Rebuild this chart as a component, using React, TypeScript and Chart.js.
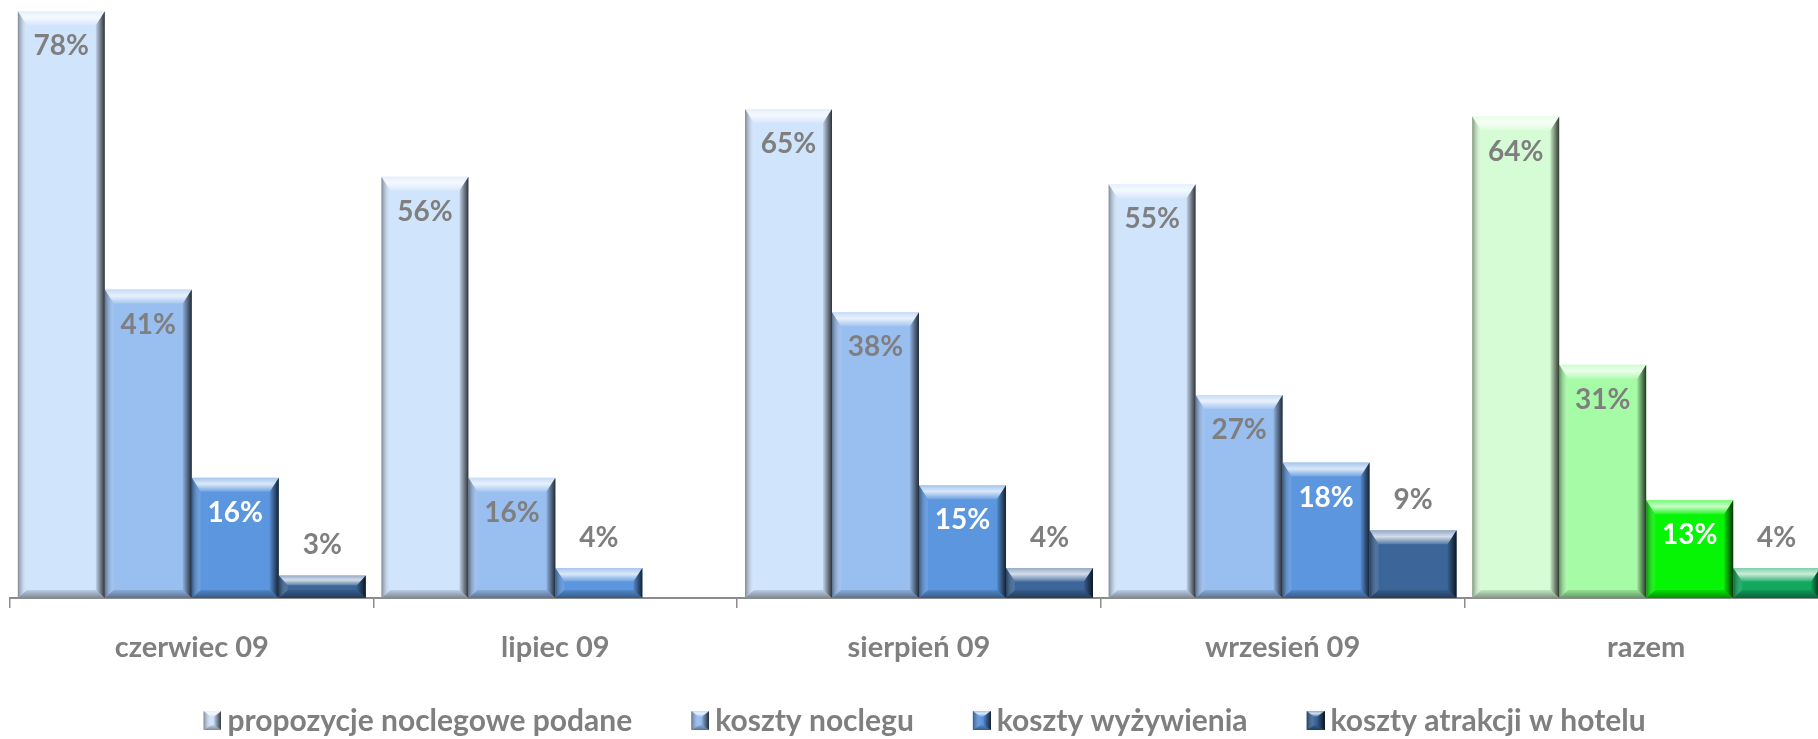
import React, { useEffect, useRef } from 'react';
import { Chart, registerables } from 'chart.js';

Chart.register(...registerables);

const categories = ['czerwiec 09', 'lipiec 09', 'sierpień 09', 'wrzesień 09', 'razem'];
const seriesNames = [
  'propozycje noclegowe podane',
  'koszty noclegu',
  'koszty wyżywienia',
  'koszty atrakcji w hotelu',
];
const propozycje = [78, 56, 65, 55, 64];
const kosztyNoclegu = [41, 16, 38, 27, 31];
const kosztyWyzywienia = [16, 4, 15, 18, 13];
const kosztyAtrakcji: (number | null)[] = [3, null, 4, 9, 4];

const blueColors = ['#D0E4FC', '#99BEF0', '#5B96DF', '#3C6699'];
const greenColors = ['#D6FCD6', '#A6FBA6', '#05F505', '#12A85E'];

const FONT = 'Lato';
const GRAY = '#7F7F7F';

function poly(ctx: CanvasRenderingContext2D, pts: number[][], fill: any) {
  ctx.beginPath();
  ctx.moveTo(pts[0][0], pts[0][1]);
  for (let i = 1; i < pts.length; i++) ctx.lineTo(pts[i][0], pts[i][1]);
  ctx.closePath();
  ctx.fillStyle = fill;
  ctx.fill();
}

function drawBevel(ctx: CanvasRenderingContext2D, L: number, T: number, R: number, B: number, big = true) {
  const w = R - L;
  const h = B - T;
  if (w <= 0 || h <= 0) return;
  const tb = big ? Math.min(14, h * 0.45) : h * 0.3;
  const bb = big ? Math.min(8, h * 0.35) : h * 0.25;
  const s = big ? Math.min(9, w * 0.3) : w * 0.42;
  ctx.save();
  let g = ctx.createLinearGradient(0, T, 0, T + tb);
  g.addColorStop(0, 'rgba(255,255,255,0.45)');
  g.addColorStop(0.45, 'rgba(255,255,255,0.78)');
  g.addColorStop(1, 'rgba(255,255,255,0.12)');
  poly(ctx, [[L, T], [R, T], [R - s, T + tb], [L + s, T + tb]], g);
  g = ctx.createLinearGradient(0, B - bb, 0, B);
  g.addColorStop(0, 'rgba(0,0,0,0.10)');
  g.addColorStop(1, 'rgba(0,0,0,0.40)');
  poly(ctx, [[L, B], [R, B], [R - s, B - bb], [L + s, B - bb]], g);
  g = ctx.createLinearGradient(L, 0, L + s, 0);
  g.addColorStop(0, 'rgba(0,0,0,0.40)');
  g.addColorStop(1, 'rgba(255,255,255,0.08)');
  poly(ctx, [[L, T], [L + s, T + tb], [L + s, B - bb], [L, B]], g);
  g = ctx.createLinearGradient(R - s, 0, R, 0);
  g.addColorStop(0, 'rgba(0,0,0,0.08)');
  g.addColorStop(1, 'rgba(0,0,0,0.78)');
  poly(ctx, [[R, T], [R - s, T + tb], [R - s, B - bb], [R, B]], g);
  ctx.restore();
}

// legend marker: square drawn at the right end of a transparent strip
const MARK_W = 18;
const MARK_H = 19;
const MARK_IMG_W = 68;
const MARK_OFFSET = 50;

function makeMarker(color: string): HTMLCanvasElement {
  const c = document.createElement('canvas');
  c.width = MARK_IMG_W;
  c.height = MARK_H + 1;
  const ctx = c.getContext('2d')!;
  ctx.fillStyle = color;
  ctx.fillRect(MARK_OFFSET, 0, MARK_W, MARK_H);
  drawBevel(ctx, MARK_OFFSET, 0, MARK_OFFSET + MARK_W, MARK_H, false);
  return c;
}

const colorFor = (si: number) => (ctx: any) =>
  ctx.dataIndex === 4 ? greenColors[si] : blueColors[si];

const bevelPlugin = {
  id: 'bevel',
  afterDatasetsDraw(chart: any) {
    const ctx = chart.ctx;
    chart.data.datasets.forEach((ds: any, di: number) => {
      const meta = chart.getDatasetMeta(di);
      meta.data.forEach((el: any, i: number) => {
        if (ds.data[i] == null) return;
        const p = el.getProps(['x', 'y', 'base', 'width'], true);
        const L = p.x - p.width / 2;
        const R = p.x + p.width / 2;
        const T = Math.min(p.y, p.base);
        const B = Math.max(p.y, p.base);
        drawBevel(ctx, L, T, R, B, true);
      });
    });
  },
};

const labelPlugin = {
  id: 'valueLabels',
  afterDatasetsDraw(chart: any) {
    const ctx = chart.ctx;
    ctx.save();
    ctx.font = `bold 28px ${FONT}`;
    ctx.textAlign = 'center';
    ctx.textBaseline = 'middle';
    chart.data.datasets.forEach((ds: any, di: number) => {
      const meta = chart.getDatasetMeta(di);
      meta.data.forEach((el: any, i: number) => {
        const v = ds.data[i];
        if (v == null) return;
        const p = el.getProps(['x', 'y'], true);
        const inside = v >= 10;
        ctx.fillStyle = inside && di === 2 ? '#FFFFFF' : GRAY;
        ctx.fillText(`${v}%`, p.x, inside ? p.y + 35 : p.y - 30);
      });
    });
    ctx.restore();
  },
};

// nudge the centred legend row so its visible block is centred like the reference
const legendShiftPlugin = {
  id: 'legendShift',
  afterLayout(chart: any) {
    const lg = chart.legend;
    if (lg) {
      lg.left -= 15;
      lg.right -= 15;
    }
  },
};

export default function App() {
  const ref = useRef<HTMLCanvasElement>(null);
  useEffect(() => {
    const markers = blueColors.map(makeMarker);
    const values = [propozycje, kosztyNoclegu, kosztyWyzywienia, kosztyAtrakcji];
    const chart = new Chart(ref.current!, {
      type: 'bar',
      data: {
        labels: categories,
        datasets: values.map((d, si) => ({
          label: seriesNames[si],
          data: d,
          backgroundColor: colorFor(si),
          borderWidth: 0,
          categoryPercentage: 0.957,
          barPercentage: 1,
        })),
      },
      options: {
        animation: false,
        responsive: false,
        devicePixelRatio: 1,
        layout: { padding: { left: 10, right: 12, top: 0, bottom: 0 } },
        scales: {
          x: {
            grid: {
              display: true,
              drawOnChartArea: false,
              drawTicks: true,
              tickLength: 10,
              color: '#8C8C8C',
              lineWidth: 1.5,
              offset: true,
            },
            border: { display: true, color: '#8C8C8C', width: 2 },
            ticks: {
              color: GRAY,
              font: { family: FONT, size: 29, weight: 'bold' },
              padding: 22.6,
            },
          },
          y: { display: false, min: 0, max: 79.5 },
        },
        plugins: {
          tooltip: { enabled: false },
          legend: {
            position: 'bottom',
            labels: {
              usePointStyle: true,
              pointStyleWidth: 50,
              padding: 18,
              color: GRAY,
              font: { family: FONT, size: 30, weight: 'bold' },
              generateLabels: () =>
                seriesNames.map((t, i) => ({
                  text: t,
                  pointStyle: markers[i],
                  fillStyle: blueColors[i],
                  strokeStyle: 'rgba(0,0,0,0)',
                  lineWidth: 0,
                  hidden: false,
                  datasetIndex: i,
                  fontColor: GRAY,
                })),
            },
          },
        },
      },
      plugins: [bevelPlugin, labelPlugin, legendShiftPlugin],
    } as any);
    return () => chart.destroy();
  }, []);
  return (
    <div
      style={{
        position: 'fixed',
        left: 0,
        top: 0,
        width: 1818,
        height: 739,
        overflow: 'hidden',
        background: '#ffffff',
      }}
    >
      <canvas ref={ref} width={1840} height={746} style={{ display: 'block', width: 1840, height: 746 }} />
    </div>
  );
}
